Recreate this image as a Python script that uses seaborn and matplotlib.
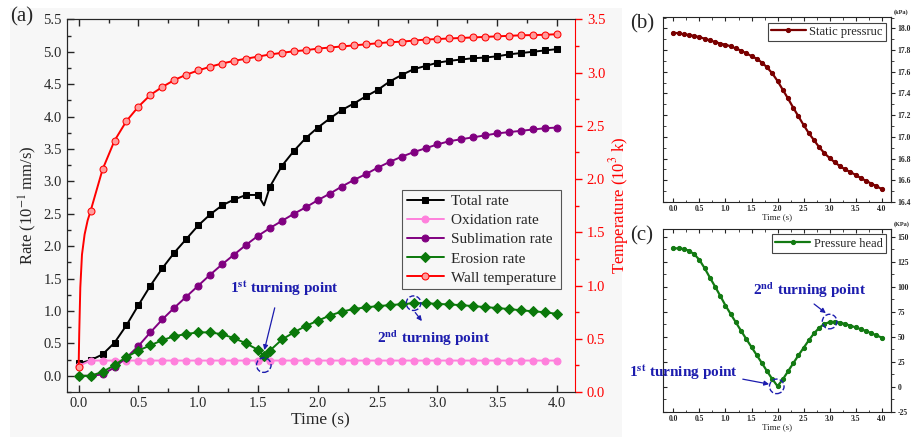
import matplotlib
matplotlib.use('Agg')
import matplotlib.pyplot as plt
import seaborn as sns
from matplotlib.patches import Rectangle
from matplotlib.ticker import MultipleLocator, FormatStrFormatter

sns.set_style('ticks')
plt.rcParams['font.family'] = ['Liberation Serif', 'DejaVu Serif']
plt.rcParams['mathtext.fontset'] = 'stix'

# ---- panel (a) data ----
t_main = [0.0, 0.1, 0.2, 0.3, 0.4, 0.5, 0.6, 0.7, 0.8, 0.9, 1.0, 1.1, 1.2, 1.3, 1.4, 1.5, 1.55,
          1.6, 1.7, 1.8, 1.9, 2.0, 2.1, 2.2, 2.3, 2.4, 2.5, 2.6, 2.7, 2.8, 2.9, 3.0,
          3.1, 3.2, 3.3, 3.4, 3.5, 3.6, 3.7, 3.8, 3.9, 4.0]
total_rate = [0.19, 0.24, 0.33, 0.51, 0.78, 1.09, 1.39, 1.66, 1.90, 2.11, 2.32, 2.49, 2.63, 2.72, 2.79, 2.79, 2.63,
              2.92, 3.24, 3.47, 3.67, 3.83, 3.97, 4.10, 4.20, 4.31, 4.41, 4.54, 4.64, 4.73, 4.78, 4.83,
              4.86, 4.88, 4.90, 4.91, 4.93, 4.96, 4.98, 5.00, 5.02, 5.04]
erosion_rate = [0.00, 0.00, 0.06, 0.165, 0.29, 0.39, 0.47, 0.55, 0.61, 0.645, 0.67, 0.67, 0.64, 0.58, 0.50, 0.40, 0.30,
                0.39, 0.56, 0.67, 0.77, 0.85, 0.93, 0.99, 1.03, 1.055, 1.075, 1.09, 1.105, 1.12, 1.12, 1.11,
                1.10, 1.09, 1.075, 1.06, 1.045, 1.03, 1.01, 0.995, 0.98, 0.955]

t_grid = [0.0, 0.1, 0.2, 0.3, 0.4, 0.5, 0.6, 0.7, 0.8, 0.9, 1.0, 1.1, 1.2, 1.3, 1.4, 1.5, 1.6, 1.7, 1.8, 1.9, 2.0,
          2.1, 2.2, 2.3, 2.4, 2.5, 2.6, 2.7, 2.8, 2.9, 3.0, 3.1, 3.2, 3.3, 3.4, 3.5, 3.6, 3.7, 3.8, 3.9, 4.0]
oxidation_rate = [0.15, 0.235, 0.235, 0.235, 0.235, 0.235, 0.235, 0.235, 0.235, 0.235, 0.235, 0.235, 0.235, 0.235,
                  0.235, 0.235, 0.235, 0.235, 0.235, 0.235, 0.235, 0.235, 0.235, 0.235, 0.235, 0.235, 0.235, 0.235,
                  0.235, 0.235, 0.235, 0.235, 0.235, 0.235, 0.235, 0.235, 0.235, 0.235, 0.235, 0.235, 0.235]
sublimation_rate = [0.0, 0.0, 0.02, 0.13, 0.28, 0.46, 0.67, 0.87, 1.05, 1.22, 1.39, 1.56, 1.72, 1.87, 2.02, 2.16,
                    2.28, 2.39, 2.50, 2.60, 2.71, 2.81, 2.92, 3.02, 3.11, 3.21, 3.30, 3.38, 3.45, 3.51, 3.57,
                    3.62, 3.65, 3.68, 3.71, 3.74, 3.76, 3.78, 3.80, 3.82, 3.83]

t_wall = [0.0, 0.005, 0.014, 0.028, 0.05, 0.075, 0.1, 0.2, 0.3, 0.4, 0.5, 0.6, 0.7, 0.8, 0.9, 1.0, 1.1, 1.2, 1.3,
          1.4, 1.5, 1.6, 1.7, 1.8, 1.9, 2.0, 2.1, 2.2, 2.3, 2.4, 2.5, 2.6, 2.7, 2.8, 2.9, 3.0, 3.1, 3.2, 3.3,
          3.4, 3.5, 3.6, 3.7, 3.8, 3.9, 4.0]
wall_temp = [0.23, 0.55, 0.98, 1.29, 1.48, 1.61, 1.70, 2.09, 2.36, 2.545, 2.68, 2.79, 2.865, 2.93, 2.98, 3.02,
             3.055, 3.085, 3.11, 3.13, 3.15, 3.17, 3.185, 3.20, 3.21, 3.225, 3.235, 3.245, 3.255, 3.265, 3.275,
             3.285, 3.29, 3.30, 3.31, 3.315, 3.32, 3.325, 3.33, 3.335, 3.34, 3.345, 3.35, 3.352, 3.355, 3.36]

# ---- panel (b) / (c) data ----
static_pressure = [17.96, 17.955, 17.945, 17.94, 17.93, 17.92, 17.905, 17.89, 17.875, 17.86, 17.85, 17.835,
                   17.815, 17.795, 17.77, 17.745, 17.72, 17.685, 17.64, 17.585, 17.515, 17.435, 17.355, 17.27,
                   17.19, 17.11, 17.035, 16.97, 16.905, 16.85, 16.805, 16.765, 16.73, 16.70, 16.675, 16.65,
                   16.62, 16.595, 16.57, 16.545, 16.52]
pressure_head = [138.4, 138.4, 137.7, 136.0, 132.5, 126.8, 118.5, 109.2, 100.2, 90.9, 81.3, 72.8, 64.4, 56.0,
                 47.8, 39.8, 31.8, 23.8, 15.6, 7.8, 0.8, 7.5, 15.5, 23.5, 31.5, 39.0, 46.5, 53.5, 59.0, 63.0,
                 64.7, 65.2, 64.3, 62.8, 61.2, 59.5, 57.7, 55.8, 53.7, 51.5, 49.3]

blue = '#1c1cae'
bg = '#f7f7f7'

fig = plt.figure(figsize=(9.12, 4.37), dpi=100)
fig.add_artist(Rectangle((0.011, 0), 0.671, 0.982, transform=fig.transFigure,
                         facecolor=bg, edgecolor='none', zorder=-5))

# ================= (a) =================
ax = fig.add_axes([0.0731, 0.103, 0.5574, 0.8528])
ax.set_facecolor(bg)
mk_main = [i for i in range(len(t_main)) if t_main[i] != 1.55]
sns.lineplot(x=t_main, y=total_rate, ax=ax, color='black', marker='s', ms=5, mec='black', lw=1.4,
             markevery=mk_main, label='Total rate', legend=False)
sns.lineplot(x=t_grid, y=oxidation_rate, ax=ax, color='#ff80dc', marker='o', ms=5, mec='#ff80dc', lw=1.4,
             label='Oxidation rate', legend=False)
sns.lineplot(x=t_grid, y=sublimation_rate, ax=ax, color='#800080', marker='o', ms=5, mec='#800080', lw=1.4,
             label='Sublimation rate', legend=False)
sns.lineplot(x=t_main, y=erosion_rate, ax=ax, color='#0a780a', marker='D', ms=5, mec='#0a780a', lw=1.4,
             label='Erosion rate', legend=False)

ax2 = ax.twinx()
mk_wall = [0] + list(range(6, len(t_wall)))
sns.lineplot(x=t_wall, y=wall_temp, ax=ax2, color='red', marker='o', ms=5, mec='red', mfc='#ff9c9c', lw=1.4,
             markevery=mk_wall, label='Wall temperature', legend=False)

ax.set_xlim(-0.1, 4.15)
ax.set_ylim(-0.25, 5.5)
ax2.set_ylim(0, 3.5)
ax.xaxis.set_major_locator(MultipleLocator(0.5))
ax.xaxis.set_minor_locator(MultipleLocator(0.25))
ax.yaxis.set_major_locator(MultipleLocator(0.5))
ax.yaxis.set_minor_locator(MultipleLocator(0.25))
ax2.yaxis.set_major_locator(MultipleLocator(0.5))
ax2.yaxis.set_minor_locator(MultipleLocator(0.25))
ax.xaxis.set_major_formatter(FormatStrFormatter('%.1f'))
ax.yaxis.set_major_formatter(FormatStrFormatter('%.1f'))
ax2.yaxis.set_major_formatter(FormatStrFormatter('%.1f'))
ax.tick_params(which='both', direction='in', top=True, right=False, labelsize=10.5, width=1)
ax.tick_params(which='major', length=5)
ax.tick_params(which='minor', length=3)
ax2.tick_params(which='both', direction='out', colors='red', labelsize=10.5, width=1)
ax2.tick_params(which='major', length=5)
ax2.tick_params(which='minor', length=3)
ax2.spines['right'].set_color('red')
ax.spines['right'].set_visible(False)
ax.set_xlabel('Time (s)', fontsize=12.5, labelpad=2)
ax.set_ylabel('Rate (10$^{-1}$ mm/s)', fontsize=12, labelpad=3)
ax2.set_ylabel('Temperature (10$^{3}$ k)', fontsize=12, color='red', labelpad=1)

handles = ax.get_legend_handles_labels()[0] + ax2.get_legend_handles_labels()[0]
labels = ax.get_legend_handles_labels()[1] + ax2.get_legend_handles_labels()[1]
leg = ax2.legend(handles, labels, loc='lower right', bbox_to_anchor=(0.9725, 0.276), borderaxespad=0,
                 fontsize=11, handlelength=2.4, labelspacing=0.35, fancybox=False, framealpha=1,
                 edgecolor='#555555', facecolor=bg, borderpad=0.3, handletextpad=0.5)
leg.get_frame().set_linewidth(0.8)

ax.text(1.72, 1.35, '1$^{\\mathbf{st}}$ turning point', color=blue, fontsize=11, fontweight='bold',
        ha='center', va='center')
ax.annotate('', xy=(1.547, 0.355), xytext=(1.645, 1.09),
            arrowprops=dict(arrowstyle='-|>', color=blue, lw=0.9, mutation_scale=7))
ax.scatter([1.548], [0.165], s=110, facecolors='none', edgecolors=blue, linestyles='--', linewidths=1, zorder=5)
ax.text(2.97, 0.58, '2$^{\\mathbf{nd}}$ turning point', color=blue, fontsize=11, fontweight='bold',
        ha='center', va='center')
ax.annotate('', xy=(2.884, 0.81), xytext=(2.80, 1.01),
            arrowprops=dict(arrowstyle='-|>', color=blue, lw=0.9, mutation_scale=7))
ax.scatter([2.80], [1.12], s=110, facecolors='none', edgecolors=blue, linestyles='--', linewidths=1, zorder=5)

fig.text(0.011, 0.962, '(a)', fontsize=15, va='center')


def small_panel(rect, values, color, label, ylim, ymajor, fmt, unit, tag):
    a = fig.add_axes(rect)
    sns.lineplot(x=t_grid, y=values, ax=a, color=color, marker='o', ms=3, mec=color, lw=1.6,
                 label=label, legend=False)
    a.set_xlim(-0.2, 4.18)
    a.set_ylim(*ylim)
    a.xaxis.set_major_locator(MultipleLocator(0.5))
    a.xaxis.set_minor_locator(MultipleLocator(0.25))
    a.yaxis.set_major_locator(MultipleLocator(ymajor))
    a.yaxis.set_minor_locator(MultipleLocator(ymajor / 2))
    a.xaxis.set_major_formatter(FormatStrFormatter('%.1f'))
    a.tick_params(axis='x', which='both', direction='in', top=True, labelsize=5.5, pad=2)
    a.tick_params(axis='y', which='both', direction='in', left=True, right=False, labelleft=False)
    a.tick_params(which='major', length=3)
    a.tick_params(which='minor', length=1.8)
    sec = a.secondary_yaxis('right')
    sec.yaxis.set_major_locator(MultipleLocator(ymajor))
    sec.yaxis.set_minor_locator(MultipleLocator(ymajor / 2))
    sec.yaxis.set_major_formatter(FormatStrFormatter(fmt))
    sec.tick_params(which='both', direction='out', labelsize=5.5, pad=1.5)
    sec.tick_params(which='major', length=3)
    sec.tick_params(which='minor', length=1.8)
    plt.setp(a.get_xticklabels(), fontweight='bold')
    plt.setp(sec.get_yticklabels(), fontweight='bold')
    a.set_xlabel('Time (s)', fontsize=6.5, labelpad=0)
    a.set_ylabel('')
    lg = a.legend(loc='upper right', bbox_to_anchor=(0.978, 0.97), borderaxespad=0, fontsize=9,
                  handlelength=2.8, fancybox=False, framealpha=1, edgecolor='#444444',
                  borderpad=0.25, handletextpad=0.3)
    lg.get_frame().set_linewidth(0.8)
    top = rect[1] + rect[3]
    fig.text(0.9795, top + 0.011, unit, fontsize=4.5, fontweight='bold', va='center', ha='left')
    fig.text(0.691, top - 0.015, tag, fontsize=15, va='center')
    return a


axb = small_panel([0.727, 0.5378, 0.25, 0.4233], static_pressure, '#7a0000', 'Static pressruc',
                  (16.4, 18.105), 0.2, '%.1f', '(kPa)', '(b)')
axc = small_panel([0.727, 0.0572, 0.25, 0.4188], pressure_head, '#137a13', 'Pressure head',
                  (-25, 157.7), 25, '%d', '(KPa)', '(c)')

axc.text(0.19, 15.2, '1$^{\\mathbf{st}}$ turning point', color=blue, fontsize=11, fontweight='bold',
         ha='center', va='center')
axc.annotate('', xy=(1.89, 2.3), xytext=(1.28, 8.3),
             arrowprops=dict(arrowstyle='-|>', color=blue, lw=0.9, mutation_scale=7))
axc.scatter([1.985], [0.6], s=110, facecolors='none', edgecolors=blue, linestyles='--', linewidths=1, zorder=5)
axc.text(2.62, 97, '2$^{\\mathbf{nd}}$ turning point', color=blue, fontsize=11, fontweight='bold',
         ha='center', va='center')
axc.annotate('', xy=(2.97, 72), xytext=(2.66, 84.5),
             arrowprops=dict(arrowstyle='-|>', color=blue, lw=0.9, mutation_scale=7))
axc.scatter([3.0], [65.3], s=110, facecolors='none', edgecolors=blue, linestyles='--', linewidths=1, zorder=5)

fig.savefig('out.png', dpi=100)
